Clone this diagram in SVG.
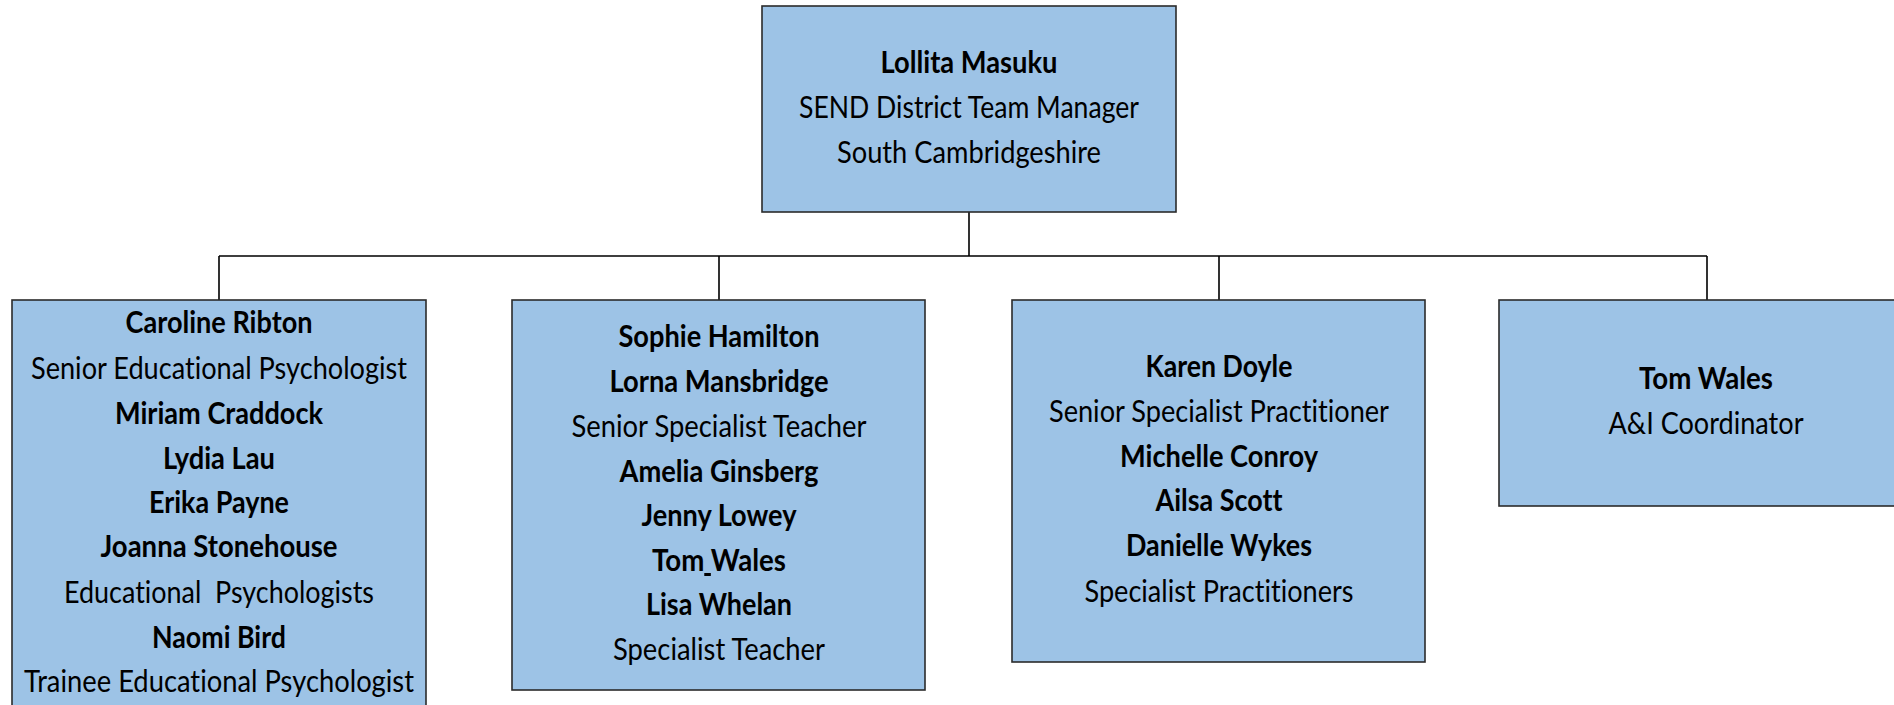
<svg xmlns="http://www.w3.org/2000/svg" width="1894" height="705" viewBox="0 0 1894 705">
<style>
.box{fill:#9DC3E6;stroke:#2b2b2b;stroke-width:1.6}
.ln{stroke:#000;stroke-width:1.6;fill:none}
text{font-family:Lato,"Open Sans","Liberation Sans",sans-serif;font-size:30px;fill:#000;text-anchor:middle;white-space:pre;font-variant-ligatures:none;font-feature-settings:"liga" 0}
.b{font-weight:bold}
</style>
<rect width="1894" height="705" fill="#fff"/>
<g id="connectors">
<path class="ln" d="M969 212V256M219 256H1707M219 256V300M719 256V300M1219 256V300M1707 256V300"/>
</g>
<g id="n0">
<rect class="box" x="762" y="6" width="414" height="206"/>
<text class="b" x="969" y="73" textLength="177" lengthAdjust="spacingAndGlyphs">Lollita Masuku</text>
<text x="969" y="118" textLength="340" lengthAdjust="spacingAndGlyphs">SEND District Team Manager</text>
<text x="969" y="163" textLength="264" lengthAdjust="spacingAndGlyphs">South Cambridgeshire</text>
</g>
<g id="n1">
<rect class="box" x="12" y="300" width="414" height="420"/>
<text class="b" x="219" y="333" textLength="187" lengthAdjust="spacingAndGlyphs">Caroline Ribton</text>
<text x="219" y="379" textLength="376" lengthAdjust="spacingAndGlyphs">Senior Educational Psychologist</text>
<text class="b" x="219" y="424" textLength="208" lengthAdjust="spacingAndGlyphs">Miriam Craddock</text>
<text class="b" x="219" y="469" textLength="112" lengthAdjust="spacingAndGlyphs">Lydia Lau</text>
<text class="b" x="219" y="513" textLength="140" lengthAdjust="spacingAndGlyphs">Erika Payne</text>
<text class="b" x="219" y="557" textLength="237" lengthAdjust="spacingAndGlyphs">Joanna Stonehouse</text>
<text x="219" y="603" textLength="310" lengthAdjust="spacingAndGlyphs" xml:space="preserve">Educational  Psychologists</text>
<text class="b" x="219" y="648" textLength="134" lengthAdjust="spacingAndGlyphs">Naomi Bird</text>
<text x="219" y="692" textLength="390" lengthAdjust="spacingAndGlyphs">Trainee Educational Psychologist</text>
</g>
<g id="n2">
<rect class="box" x="512" y="300" width="413" height="390"/>
<text class="b" x="719" y="347" textLength="201" lengthAdjust="spacingAndGlyphs">Sophie Hamilton</text>
<text class="b" x="719" y="392" textLength="219" lengthAdjust="spacingAndGlyphs">Lorna Mansbridge</text>
<text x="719" y="437" textLength="295" lengthAdjust="spacingAndGlyphs">Senior Specialist Teacher</text>
<text class="b" x="719" y="482" textLength="199" lengthAdjust="spacingAndGlyphs">Amelia Ginsberg</text>
<text class="b" x="719" y="526" textLength="155" lengthAdjust="spacingAndGlyphs">Jenny Lowey</text>
<text class="b" x="719" y="571" textLength="134" lengthAdjust="spacingAndGlyphs">Tom<tspan text-decoration="underline"> </tspan>Wales</text>
<text class="b" x="719" y="615" textLength="146" lengthAdjust="spacingAndGlyphs">Lisa Whelan</text>
<text x="719" y="660" textLength="212" lengthAdjust="spacingAndGlyphs">Specialist Teacher</text>
</g>
<g id="n3">
<rect class="box" x="1012" y="300" width="413" height="362"/>
<text class="b" x="1219" y="377" textLength="147" lengthAdjust="spacingAndGlyphs">Karen Doyle</text>
<text x="1219" y="422" textLength="340" lengthAdjust="spacingAndGlyphs">Senior Specialist Practitioner</text>
<text class="b" x="1219" y="467" textLength="198" lengthAdjust="spacingAndGlyphs">Michelle Conroy</text>
<text class="b" x="1219" y="511" textLength="127" lengthAdjust="spacingAndGlyphs">Ailsa Scott</text>
<text class="b" x="1219" y="556" textLength="186" lengthAdjust="spacingAndGlyphs">Danielle Wykes</text>
<text x="1219" y="602" textLength="269" lengthAdjust="spacingAndGlyphs">Specialist Practitioners</text>
</g>
<g id="n4">
<rect class="box" x="1499" y="300" width="414" height="206"/>
<text class="b" x="1706" y="389" textLength="134" lengthAdjust="spacingAndGlyphs">Tom Wales</text>
<text x="1706" y="434" textLength="195" lengthAdjust="spacingAndGlyphs">A&amp;I Coordinator</text>
</g>
</svg>
